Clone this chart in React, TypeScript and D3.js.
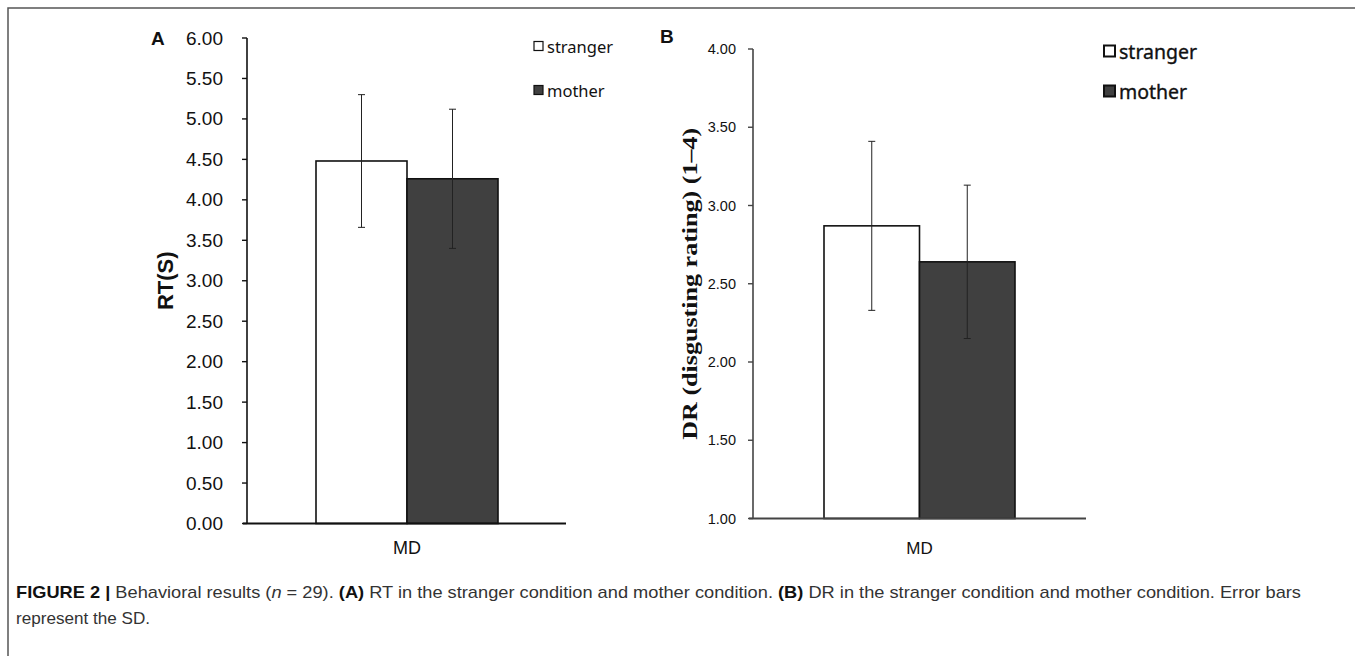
import React from "react";
import * as d3 from "d3";

const categories = ["MD"];
const seriesNames = ["stranger", "mother"];
const rtMeans = [4.48, 4.26];
const rtSD = [0.82, 0.86];
const drMeans = [2.87, 2.64];
const drSD = [0.54, 0.49];
const rtTicks = [0, 0.5, 1, 1.5, 2, 2.5, 3, 3.5, 4, 4.5, 5, 5.5, 6];
const drTicks = [1, 1.5, 2, 2.5, 3, 3.5, 4];
const fills = ["#ffffff", "#404040"];

const W = 1355;
const H = 656;

type PanelProps = {
  letter: string;
  means: number[];
  sds: number[];
  ticks: number[];
  domain: [number, number];
  axisX: number;
  xEnd: number;
  yTop: number;
  yBottom: number;
  barLeft: number;
  barWidth: number;
  tickFont: number;
  tickGap: number;
  axisColor: string;
  title: string;
  titleX: number;
  titleFont: string;
  titleSize: number;
  titleLength?: number;
  letterX: number;
  letterY: number;
  letterSize: number;
  legendX: number;
  legendY: number[];
  legendSize: number;
  legendSq: number;
  legendStroke: number;
  legendTextStroke: number;
  mdSize: number;
  mdY: number;
};

function Panel(p: PanelProps) {
  const y = d3.scaleLinear().domain(p.domain).range([p.yBottom, p.yTop]);
  const x = d3
    .scaleBand()
    .domain(seriesNames)
    .range([p.barLeft, p.barLeft + p.barWidth * seriesNames.length])
    .padding(0);
  const catCenter = p.barLeft + p.barWidth;
  const fmt = d3.format(".2f");
  return (
    <g>
      <text
        x={p.letterX}
        y={p.letterY}
        fontFamily="Liberation Sans, Arial, sans-serif"
        fontWeight="bold"
        fontSize={p.letterSize}
        dominantBaseline="central"
        fill="#111"
      >
        {p.letter}
      </text>
      {seriesNames.map((s, i) => (
        <rect
          key={s}
          x={x(s)!}
          y={y(p.means[i])}
          width={x.bandwidth()}
          height={y(p.domain[0]) - y(p.means[i])}
          fill={fills[i]}
          stroke="#111"
          strokeWidth={1.6}
        />
      ))}
      {seriesNames.map((s, i) => {
        const cx = x(s)! + x.bandwidth() / 2;
        const hi = y(p.means[i] + p.sds[i]);
        const lo = y(p.means[i] - p.sds[i]);
        return (
          <g key={s + "e"} stroke="#222" strokeWidth={1}>
            <line x1={cx} x2={cx} y1={hi} y2={lo} />
            <line x1={cx - 3.5} x2={cx + 3.5} y1={hi} y2={hi} />
            <line x1={cx - 3.5} x2={cx + 3.5} y1={lo} y2={lo} />
          </g>
        );
      })}
      <line
        x1={p.axisX}
        x2={p.axisX}
        y1={y(p.domain[1])}
        y2={y(p.domain[0])}
        stroke={p.axisColor}
        strokeWidth={1.6}
      />
      {p.ticks.map((t) => (
        <g key={t}>
          <line
            x1={p.axisX - 5}
            x2={p.axisX}
            y1={y(t)}
            y2={y(t)}
            stroke={p.axisColor}
            strokeWidth={1.4}
          />
          <text
            x={p.axisX - p.tickGap}
            y={y(t)}
            textAnchor="end"
            dominantBaseline="central"
            fontFamily="Liberation Sans, Arial, sans-serif"
            fontSize={p.tickFont}
            fill="#111"
          >
            {fmt(t)}
          </text>
        </g>
      ))}
      <line
        x1={p.axisX - 4}
        x2={p.xEnd}
        y1={y(p.domain[0])}
        y2={y(p.domain[0])}
        stroke={p.axisColor}
        strokeWidth={1.8}
      />
      <text
        x={catCenter}
        y={p.mdY}
        textAnchor="middle"
        dominantBaseline="central"
        fontFamily="Liberation Sans, Arial, sans-serif"
        fontSize={p.mdSize}
        fill="#111"
      >
        {categories[0]}
      </text>
      <text
        transform={`translate(${p.titleX},${(p.yTop + p.yBottom) / 2}) rotate(-90)`}
        textAnchor="middle"
        dominantBaseline="central"
        fontFamily={p.titleFont}
        fontWeight="bold"
        fontSize={p.titleSize}
        fill="#111"
        {...(p.titleLength ? { textLength: p.titleLength, lengthAdjust: "spacingAndGlyphs" } : {})}
      >
        {p.title}
      </text>
      {seriesNames.map((s, i) => (
        <g key={s + "l"}>
          <rect
            x={p.legendX}
            y={p.legendY[i] - p.legendSq / 2}
            width={p.legendSq}
            height={p.legendSq}
            fill={fills[i]}
            stroke="#111"
            strokeWidth={p.legendStroke}
          />
          <text
            x={p.legendX + p.legendSq + 4}
            y={p.legendY[i]}
            dominantBaseline="central"
            fontFamily="Noto Sans, Open Sans, sans-serif"
            fontSize={p.legendSize}
            fill="#111"
            stroke="#111"
            strokeWidth={p.legendTextStroke}
          >
            {s}
          </text>
        </g>
      ))}
    </g>
  );
}

export default function App() {
  const capFont = "'Liberation Sans', Arial, sans-serif";
  return (
    <svg
      width={W}
      height={H}
      style={{ position: "absolute", left: 0, top: 0, background: "#fff" }}
    >
      <rect x={0} y={0} width={W} height={H} fill="#fff" />
      <rect x={8} y={8} width={W + 20} height={H + 20} fill="none" stroke="#555" strokeWidth={1.5} />
      <Panel
        letter="A"
        means={rtMeans}
        sds={rtSD}
        ticks={rtTicks}
        domain={[0, 6]}
        axisX={247}
        xEnd={566}
        yTop={38}
        yBottom={523.5}
        barLeft={316}
        barWidth={91}
        tickFont={19}
        tickGap={24}
        axisColor="#111"
        title="RT(S)"
        titleX={165}
        titleFont="Liberation Sans, Arial, sans-serif"
        titleSize={22}
        letterX={151}
        letterY={38}
        letterSize={19}
        legendX={534}
        legendY={[46, 90]}
        legendSq={9}
        legendStroke={1.2}
        legendTextStroke={0}
        legendSize={16.5}
        mdSize={18}
        mdY={548}
      />
      <Panel
        letter="B"
        means={drMeans}
        sds={drSD}
        ticks={drTicks}
        domain={[1, 4]}
        axisX={753}
        xEnd={1086}
        yTop={49}
        yBottom={518.5}
        barLeft={824}
        barWidth={95.5}
        tickFont={14.5}
        tickGap={17}
        axisColor="#444"
        title="DR (disgusting rating) (1–4)"
        titleX={689}
        titleFont="Liberation Serif, 'Times New Roman', serif"
        titleSize={22}
        titleLength={312}
        letterX={660}
        letterY={36}
        letterSize={19}
        legendX={1104}
        legendY={[51, 91]}
        legendSq={11}
        legendStroke={2}
        legendTextStroke={0.35}
        legendSize={19.5}
        mdSize={17}
        mdY={548}
      />
      <text x={16} y={598} fontFamily={capFont} fontSize={17} fill="#333" textLength={1285} lengthAdjust="spacingAndGlyphs">
        <tspan fontWeight="bold" fill="#111">FIGURE 2 |</tspan>
        <tspan> Behavioral results (</tspan>
        <tspan fontStyle="italic">n</tspan>
        <tspan> = 29). </tspan>
        <tspan fontWeight="bold" fill="#111">(A)</tspan>
        <tspan> RT in the stranger condition and mother condition. </tspan>
        <tspan fontWeight="bold" fill="#111">(B)</tspan>
        <tspan> DR in the stranger condition and mother condition. Error bars</tspan>
      </text>
      <text x={16} y={624} fontFamily={capFont} fontSize={17} fill="#333" textLength={134} lengthAdjust="spacingAndGlyphs">
        represent the SD.
      </text>
    </svg>
  );
}
